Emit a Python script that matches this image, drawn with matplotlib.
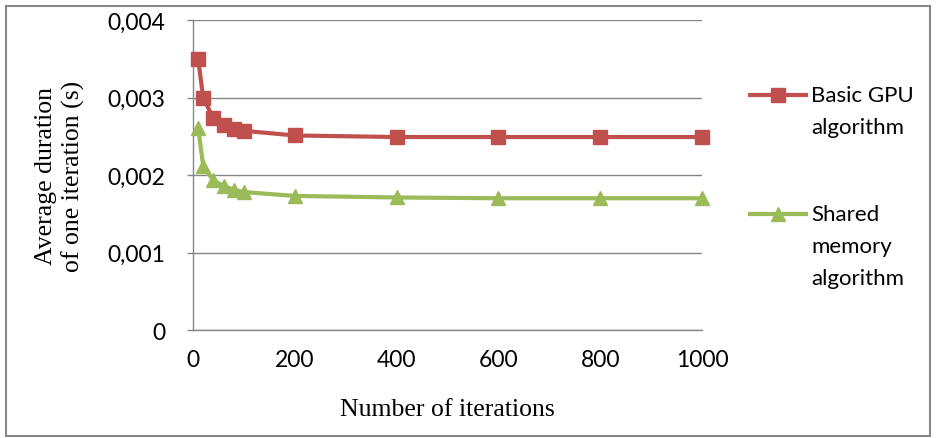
import matplotlib
matplotlib.use("Agg")
import matplotlib.pyplot as plt
from matplotlib.lines import Line2D
from matplotlib.patches import Rectangle

iterations = [10, 20, 40, 60, 80, 100, 200, 400, 600, 800, 1000]
basic_gpu = [0.0035, 0.0030, 0.00273, 0.00264, 0.00260, 0.00257, 0.00251, 0.00249, 0.00249, 0.00249, 0.00249]
shared_mem = [0.00261, 0.00212, 0.00193, 0.00186, 0.00181, 0.00178, 0.00173, 0.00171, 0.00170, 0.00170, 0.00170]
x_ticks = [0, 200, 400, 600, 800, 1000]
y_ticks = [0, 0.001, 0.002, 0.003, 0.004]
y_tick_labels = ["0", "0,001", "0,002", "0,003", "0,004"]
series_labels = ["Basic GPU\nalgorithm", "Shared\nmemory\nalgorithm"]

RED = "#C0504D"
GREEN = "#9BBB59"
GRAY = "#868686"
tick_font = "Lato"
serif_font = "Liberation Serif"

fig = plt.figure(figsize=(9.36, 4.39), dpi=100)
ax = fig.add_axes([193/936, 1 - 331/439, (702-193)/936, (331-21)/439])

ax.plot(iterations, basic_gpu, color=RED, lw=3, marker="s", ms=9.5, clip_on=False, zorder=3)
ax.plot(iterations, shared_mem, color=GREEN, lw=3, marker="^", ms=10.5, clip_on=False, zorder=3)

ax.set_xlim(0, 1000)
ax.set_ylim(0, 0.004)
ax.set_xticks(x_ticks)
ax.set_xticklabels([str(t) for t in x_ticks], fontsize=16.5, family=tick_font)
ax.set_yticks(y_ticks)
ax.set_yticklabels(y_tick_labels, fontsize=16.5, family=tick_font)
ax.tick_params(axis="x", length=0, pad=14, colors="black")
ax.tick_params(axis="y", length=4, width=1, color=GRAY, pad=16)
ax.yaxis.grid(True, color=GRAY, lw=1)
ax.set_axisbelow(True)
for s in ["top", "right"]:
    ax.spines[s].set_visible(False)
for s in ["left", "bottom"]:
    ax.spines[s].set_color(GRAY)
    ax.spines[s].set_linewidth(1)

ax.set_xlabel("Number of iterations", fontsize=18.5, family=serif_font, labelpad=20)
ax.set_ylabel("Average duration\nof one iteration (s)", fontsize=18.5, family=serif_font,
              labelpad=16, linespacing=1.25)

# legend drawn manually
legend_y = [96/439, 215/439]
colors = [RED, GREEN]
markers = ["s", "^"]
for lab, yy, c, m in zip(series_labels, legend_y, colors, markers):
    yf = 1 - yy
    fig.add_artist(Line2D([750/936, 806/936], [yf, yf], color=c, lw=3))
    fig.add_artist(Line2D([778/936], [yf], color=c, marker=m, ms=9.5, lw=0))
    for i, ln in enumerate(lab.split("\n")):
        fig.text(811/936, 1 - (yy + i * 32/439), ln, fontsize=16, family=tick_font,
                 va="center", ha="left")

fig.add_artist(Rectangle((6/936, 2/439), 924/936, 430/439, transform=fig.transFigure,
                         fill=False, edgecolor=GRAY, lw=1.5))

fig.savefig("out.png", dpi=100)
